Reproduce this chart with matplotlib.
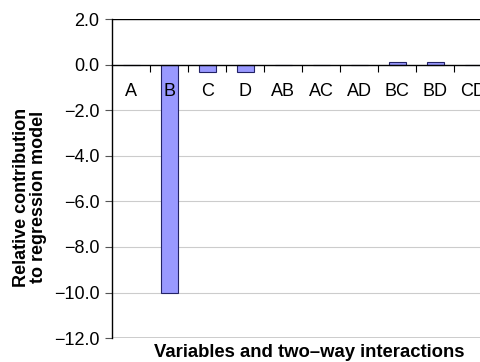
import numpy as np
import matplotlib.pyplot as plt

plt.rcParams['font.family'] = ['Liberation Sans', 'DejaVu Sans']

categories = ['A', 'B', 'C', 'D', 'AB', 'AC', 'AD', 'BC', 'BD', 'CD']
values = [0.0, -10.0, -0.3, -0.3, 0.0, 0.0, 0.0, 0.13, 0.13, 0.0]
yticks = [2, 0, -2, -4, -6, -8, -10, -12]

fig = plt.figure(figsize=(4.81, 3.62), dpi=100)
# axes run past the right edge, as in the source (CD is cut off)
ax = fig.add_axes([0.233, 0.066, 0.79, 0.881])

x = np.arange(len(categories))
ax.bar(x, values, width=0.45, color='#9999ff', edgecolor='#222266',
       linewidth=0.8, zorder=1.5)

ax.set_xlim(-0.5, len(categories) - 0.5)
ax.set_ylim(-12, 2)

# grid
for y in yticks:
    if y in (2, -12):
        ax.axhline(y, color='black', lw=1.0, zorder=2)
    elif y != 0:
        ax.axhline(y, color='#cccccc', lw=0.8, zorder=1)

# category axis sits on zero
ax.spines['bottom'].set_position(('data', 0))
ax.spines['bottom'].set_linewidth(1.0)
ax.spines['top'].set_visible(False)
ax.spines['right'].set_visible(False)
ax.spines['left'].set_linewidth(1.0)
ax.xaxis.set_zorder(5)

ax.set_xticks(x)
ax.set_xticklabels(categories, fontsize=13)
ax.tick_params(axis='x', which='major', length=0, pad=13)
ax.set_xticks(x[:-1] + 0.5, minor=True)
ax.tick_params(axis='x', which='minor', length=5, width=0.8, direction='out')

ax.set_yticks(yticks)
ax.set_yticklabels([('%.1f' % v).replace('-', '\u2212') for v in yticks],
                   fontsize=13)
ax.tick_params(axis='y', length=5, width=0.8, color='#555555', pad=4)

fig.text(0.062, 0.455, 'Relative contribution\nto regression model',
         rotation=90, ha='center', va='center', fontsize=13,
         fontweight='bold', linespacing=1.0)
fig.text(0.643, 0.027, 'Variables and two\u2013way interactions',
         ha='center', va='center', fontsize=13.3, fontweight='bold')

fig.savefig('out.png', dpi=100)
